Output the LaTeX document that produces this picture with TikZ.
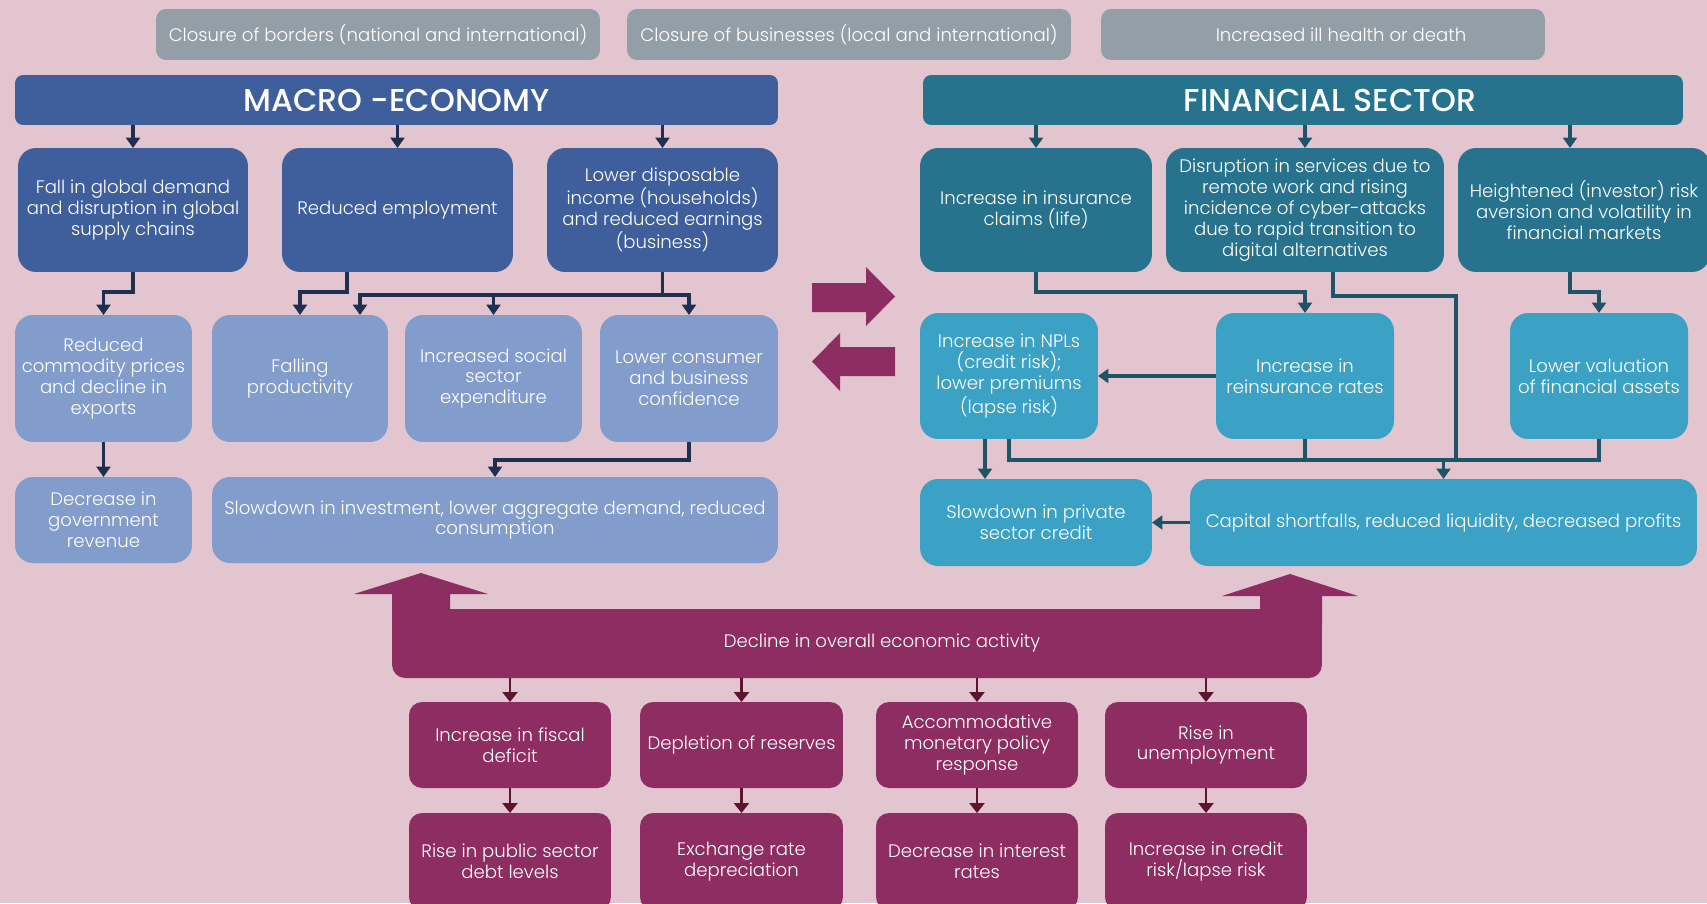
\documentclass[tikz,border=0pt]{standalone}
\usepackage{fontspec}
\IfFontExistsTF{Poppins Light}{\setmainfont{Poppins Light}}{\setmainfont{Poppins}}
\IfFontExistsTF{Poppins Medium}{\newfontfamily\titleface{Poppins Medium}}{\newfontfamily\titleface{Poppins}}
\usepackage{tikz}
\usetikzlibrary{arrows.meta, positioning, calc}

\definecolor{bgpink}{HTML}{E2C5CE}
\definecolor{causegray}{HTML}{949EA7}
\definecolor{macrodark}{HTML}{3E5F9B}
\definecolor{macrolight}{HTML}{829CCB}
\definecolor{macroline}{HTML}{1E2F4F}
\definecolor{findark}{HTML}{27738D}
\definecolor{finlight}{HTML}{3CA2C5}
\definecolor{finline}{HTML}{1F5467}
\definecolor{declinepurple}{HTML}{8E2D62}
\definecolor{declineline}{HTML}{5B1431}

\newcommand{\boxfont}{\fontsize{10.3}{11.9}\selectfont}
\newcommand{\headfont}{\titleface\fontsize{18}{20}\selectfont}

\tikzset{
  cause_box/.style={rectangle, fill=causegray, rounded corners=2mm, text=white, minimum width=8.88cm, minimum height=1.02cm, outer sep=0pt, font=\boxfont},
  macro_head/.style={rectangle, fill=macrodark, rounded corners=1.6mm, text=white, minimum height=1cm, outer sep=0pt, font=\headfont},
  fin_head/.style={rectangle, fill=findark, rounded corners=1.6mm, text=white, minimum height=1cm, outer sep=0pt, font=\headfont},
  macro_block/.style={rectangle, fill=macrodark, rounded corners=3.6mm, text=white, align=center, inner sep=1pt, outer sep=0pt, font=\boxfont},
  macro_soft/.style={rectangle, fill=macrolight, rounded corners=3.6mm, text=white, align=center, inner sep=1pt, outer sep=0pt, font=\boxfont},
  fin_block/.style={rectangle, fill=findark, rounded corners=3.6mm, text=white, align=center, inner sep=1pt, outer sep=0pt, font=\boxfont},
  fin_soft/.style={rectangle, fill=finlight, rounded corners=3.6mm, text=white, align=center, inner sep=1pt, outer sep=0pt, font=\boxfont},
  decline_block/.style={rectangle, fill=declinepurple, rounded corners=2.6mm, text=white, align=center, inner sep=1pt, outer sep=0pt, font=\boxfont},
  macro_line/.style={-, line width=2pt, draw=macroline},
  macro_arrow/.style={-{Triangle[width=2.8mm,length=2.1mm]}, line width=2pt, draw=macroline},
  fin_line/.style={-, line width=2pt, draw=finline},
  fin_arrow/.style={-{Triangle[width=2.8mm,length=2.1mm]}, line width=2pt, draw=finline},
  decline_arrow/.style={-{Triangle[width=3mm,length=2mm]}, line width=1.5pt, draw=declineline}
}

\begin{document}
\begin{tikzpicture}[x=0.02cm, y=-0.02cm]

  % Canvas
  \useasboundingbox (0,0) rectangle (1707,903);
  \clip (0,0) rectangle (1707,903);
  \fill[bgpink] (0,0) rectangle (1707,903);

  % Shocks along the top
  \node[cause_box] (borders) at (378,34.5) {Closure of borders (national and international)};
  \node[cause_box] (business) at (849,34.5) {Closure of businesses (local and international)};
  \node[cause_box] (health) at (1323,34.5) {\hspace*{0.72cm}Increased ill health or death};

  % Section headers
  \node[macro_head, minimum width=15.26cm] (macro) at (396.5,100) {MACRO -ECONOMY};
  \node[fin_head, minimum width=15.2cm] (finance) at (1303,100) {\hspace*{1.08cm}FINANCIAL SECTOR};

  % Macro-economy boxes
  \node[macro_block, minimum width=4.6cm, minimum height=2.48cm] (demand) at (133,210) {Fall in global demand\\and disruption in global\\supply chains};
  \node[macro_block, minimum width=4.62cm, minimum height=2.48cm] (employ) at (397.5,210) {Reduced employment};
  \node[macro_block, minimum width=4.62cm, minimum height=2.48cm] (income) at (662.5,210) {Lower disposable\\income (households)\\and reduced earnings\\(business)};

  \node[macro_soft, minimum width=3.54cm, minimum height=2.54cm] (commod) at (103.5,378.5) {Reduced\\commodity prices\\and decline in\\exports};
  \node[macro_soft, minimum width=3.52cm, minimum height=2.54cm] (product) at (300,378.5) {Falling\\productivity};
  \node[macro_soft, minimum width=3.54cm, minimum height=2.54cm] (social) at (493.5,378.5) {Increased social\\sector\\expenditure};
  \node[macro_soft, minimum width=3.56cm, minimum height=2.54cm] (confid) at (689,378.5) {Lower consumer\\and business\\confidence};

  \node[macro_soft, minimum width=3.54cm, minimum height=1.72cm] (revenue) at (103.5,520) {Decrease in\\government\\revenue};
  \node[macro_soft, minimum width=11.32cm, minimum height=1.72cm] (invest) at (495,520) {Slowdown in investment, lower aggregate demand, reduced\\consumption};

  % Financial sector boxes
  \node[fin_block, minimum width=4.64cm, minimum height=2.48cm] (claims) at (1036,210) {Increase in insurance\\claims (life)};
  \node[fin_block, minimum width=5.56cm, minimum height=2.48cm] (disrupt) at (1305,210) {Disruption in services due to\\remote work and rising\\incidence of cyber-attacks\\due to rapid transition to\\digital alternatives};
  \node[fin_block, minimum width=5.04cm, minimum height=2.48cm] (riskav) at (1584,210) {Heightened (investor) risk\\aversion and volatility in\\financial markets};

  \node[fin_soft, minimum width=3.56cm, minimum height=2.52cm] (npl) at (1009,376) {Increase in NPLs\\(credit risk);\\lower premiums\\(lapse risk)};
  \node[fin_soft, minimum width=3.56cm, minimum height=2.52cm] (reins) at (1305,376) {Increase in\\reinsurance rates};
  \node[fin_soft, minimum width=3.56cm, minimum height=2.52cm] (valuation) at (1599,376) {Lower valuation\\of financial assets};

  \node[fin_soft, minimum width=4.64cm, minimum height=1.74cm] (credit) at (1036,522.5) {Slowdown in private\\sector credit};
  \node[fin_soft, minimum width=10.14cm, minimum height=1.74cm] (capital) at (1443.5,522.5) {Capital shortfalls, reduced liquidity, decreased profits};

  % Two-way feedback between the sectors
  \fill[declinepurple] (812,283) -- (866,283) -- (866,267) -- (895,296.5) -- (866,326) -- (866,312) -- (812,312) -- cycle;
  \fill[declinepurple] (895,347) -- (840,347) -- (840,333) -- (812,361.5) -- (840,391) -- (840,376) -- (895,376) -- cycle;

  % Decline in activity, feeding back up
  \node[decline_block, minimum width=18.6cm, minimum height=1.38cm] (decline) at (857,643.5) {\hspace*{1cm}Decline in overall economic activity};
  \fill[declinepurple] (392,625) -- (392,594) -- (354,594) -- (421,573) -- (488,594) -- (450,594) -- (450,625) -- cycle;
  \fill[declinepurple] (1260,625) -- (1260,596) -- (1222,596) -- (1290,574) -- (1358,596) -- (1322,596) -- (1322,625) -- cycle;

  \node[decline_block, minimum width=4.04cm, minimum height=1.72cm] (fiscal) at (510,745) {Increase in fiscal\\deficit};
  \node[decline_block, minimum width=4.06cm, minimum height=1.72cm] (reserves) at (741.5,745) {Depletion of reserves};
  \node[decline_block, minimum width=4.04cm, minimum height=1.72cm] (monetary) at (977,745) {Accommodative\\monetary policy\\response};
  \node[decline_block, minimum width=4.04cm, minimum height=1.72cm] (unemploy) at (1206,745) {Rise in\\unemployment};

  \node[decline_block, minimum width=4.04cm, minimum height=1.94cm] (debt) at (510,861.5) {Rise in public sector\\debt levels};
  \node[decline_block, minimum width=4.06cm, minimum height=1.94cm] (exchange) at (741.5,861.5) {Exchange rate\\depreciation};
  \node[decline_block, minimum width=4.04cm, minimum height=1.94cm] (interest) at (977,861.5) {Decrease in interest\\rates};
  \node[decline_block, minimum width=4.04cm, minimum height=1.94cm] (lapse) at (1206,861.5) {Increase in credit\\risk/lapse risk};

  % Macro-economy connectors
  \draw[macro_arrow] (macro.south -| demand.north) -- (demand.north);
  \draw[macro_arrow] (macro.south -| employ.north) -- (employ.north);
  \draw[macro_arrow] (macro.south -| income.north) -- (income.north);
  \draw[macro_arrow] (demand.south) -- ++(0,20) -| (commod.north);
  \draw[macro_arrow] ([xshift=-1.01cm]employ.south) -- ++(0,20) -| (product.north);
  \draw[macro_line] (income.south) -- ++(0,23) coordinate (income_split);
  \draw[macro_arrow] (income_split) -| ([xshift=1.2cm]product.north);
  \draw[macro_arrow] (income_split) -| (confid.north);
  \draw[macro_arrow] (social.north |- income_split) -- (social.north);
  \draw[macro_arrow] (commod.south) -- (revenue.north);
  \draw[macro_arrow] (confid.south) -- ++(0,18) -| (invest.north);

  % Financial sector connectors
  \coordinate (riskav_in) at ([xshift=-0.28cm]riskav.north);
  \coordinate (riskav_out) at ([xshift=-0.28cm]riskav.south);
  \coordinate (npl_out) at ([xshift=-0.48cm]npl.south);
  \draw[fin_arrow] (finance.south -| claims.north) -- (claims.north);
  \draw[fin_arrow] (finance.south -| disrupt.north) -- (disrupt.north);
  \draw[fin_arrow] (riskav_in |- finance.south) -- (riskav_in);
  \draw[fin_arrow] (claims.south) -- ++(0,20) -| (reins.north);
  \draw[fin_arrow] (riskav_out) -- ++(0,20) -| (valuation.north);
  \draw[fin_arrow] (reins.west) -- (npl.east);
  \draw[fin_arrow] (npl_out) -- (npl_out |- credit.north);
  \draw[fin_line] (npl.south) -- ++(0,21) coordinate (fin_merge) -| (valuation.south);
  \draw[fin_line] (reins.south) -- (reins.south |- fin_merge);
  \coordinate (disrupt_bend) at (1456,296);
  \draw[fin_line] ([xshift=0.56cm]disrupt.south) |- (disrupt_bend) -- (disrupt_bend |- fin_merge);
  \draw[fin_arrow] (capital.north |- fin_merge) -- (capital.north);
  \draw[fin_arrow] (capital.west) -- (credit.east);

  % Consequences of the decline
  \foreach \first/\second in {fiscal/debt, reserves/exchange, monetary/interest, unemploy/lapse}{
    \draw[decline_arrow] (decline.south -| \first.north) -- (\first.north);
    \draw[decline_arrow] (\first.south) -- (\second.north);
  }

\end{tikzpicture}
\end{document}
